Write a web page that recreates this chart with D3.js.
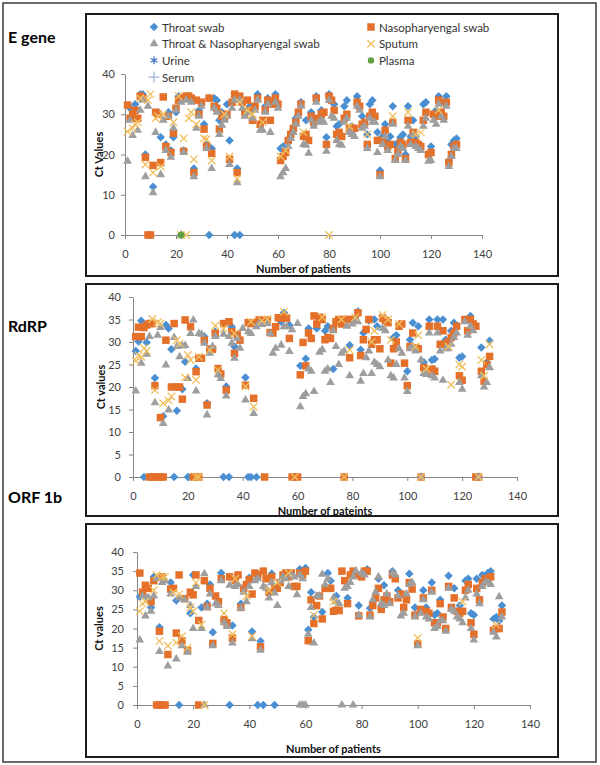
<!DOCTYPE html>
<html><head><meta charset="utf-8">
<script src="https://cdn.jsdelivr.net/npm/d3@7"></script>
<style>body{margin:0;background:#fff}</style>
</head><body><svg id="c" width="600" height="765"></svg>
<script>
// ---------- tick labels / categories ----------
const seriesNames = ["Throat swab","Nasopharyengal swab","Throat & Nasopharyengal  swab","Sputum","Urine","Plasma","Serum"];
const xTicks = [0,20,40,60,80,100,120,140];
const yTicksE = [0,10,20,30,40];
const yTicks5 = [0,5,10,15,20,25,30,35,40];

// ---------- E gene (values per patient 1..130; null = no sample) ----------
const eThroat = [null,31.5,29,32.5,null,35,35,20,null,null,
 12,null,30.5,24.3,null,22.5,30.5,21,24.3,30.5,
 34.5,34,21,34,null,null,16.5,null,31,null,
 27.5,22.5,34,21.5,34,33.5,28.5,30.5,null,32.5,
 23.5,33,34.5,16.5,null,null,null,null,32,null,
 null,35,null,null,32,34,null,33,35,null,
 21.5,22,null,23,null,26,29,30,33,null,
 28.5,null,30.5,29,34.5,null,31,null,24.3,35,
 null,32.5,27,27.5,null,32,33.5,null,27,null,
 34.5,null,29.5,null,25,32.5,33.5,null,25.5,16,
 24.5,27.5,23,24.5,32,22.5,22.8,24.3,25,20,
 32,24.5,28.5,24.5,null,null,32.5,33,null,22,
 null,31,34.5,null,33,34.5,18.5,22.5,23.5,24];
const eThroatZero = [22,33,43,45];
const eNaso = [32.3,29,30,31,29,34.5,34,19.3,null,null,
 17.3,30.5,30,18,34.3,22,29.5,20.5,25.3,31.5,
 33.5,34,20.8,34.5,34.5,34,15.5,33.5,30,33,
 26.3,22,34,20.3,32,31.5,26.3,29.5,29,30,
 18.8,33,35,15.5,34.5,33,30.5,33.5,31,28.5,
 32,34,27.5,28.5,31,33.5,28.5,32.5,34,32.5,
 18.5,19.5,20.5,23.5,25,26.5,28,30.5,32.5,24.5,
 25,23.5,29.5,28,34,29,30,30.5,22.5,34.5,
 33.5,31,25,25.5,24.5,29,30,26.5,26.5,26.5,
 33,32,27.5,28,22.5,29.5,30.5,29.5,23.5,15,
 23.5,26,22,22.5,28,19,21,23,22.5,19,
 28.5,23,25.5,23,22.5,22,28.5,30.5,20,20.5,
 30,29.5,33.5,30.5,29.5,33,18,20,22,22.5];
const eNasoZero = [9,10];
const eTN = [18.3,28.5,24.7,null,26,31,33.5,14.5,32,null,
 10.5,25.5,null,15,28.5,21,29.5,19.3,26.5,31,
 null,33,20.5,33.5,null,33,14.5,26.5,29.5,32,
 null,21.5,null,16.5,31.5,30.5,25,27.3,28.5,29.5,
 17.5,31.5,33.5,13,33.5,31.5,29.5,30.5,null,29,
 31,33.5,26,26,30.5,32.5,25.5,null,33,31.5,
 14.5,15.5,16.5,22,24,25.5,27.5,29.5,32,22.5,
 22.3,20.3,28.5,27,33,28,28.5,28,20.8,33.5,
 29.5,29,23.5,22.5,22.3,28,29,25.5,25,24.5,
 32,31,26.5,27,21.5,29,28,28,20.5,14.5,
 22.5,24.5,21,null,27.5,18.5,20,22,21.5,18.5,
 27,22.5,25,22,21.5,21,27,29,18.3,18.5,
 28.5,27.5,32.5,29.5,28.5,32,17,19.5,21.5,21.5];
const eTNZero = [22];
const eSputum = [25.7,null,26.5,27.5,28,34,null,17.5,33.5,35,
 15.5,29,29.5,17,30,null,null,null,28,null,
 34.5,null,24,null,29,30.5,18.8,27.5,null,null,
 24,23.8,null,18.5,null,null,null,null,30,null,
 19.5,null,null,14,33,null,null,31,null,30,
 null,null,null,28,null,null,null,null,null,null,
 19.5,null,21,null,null,null,null,null,null,25.5,
 null,null,null,null,null,null,null,null,null,null,
 null,null,null,null,null,null,null,27,null,null,
 null,null,null,null,25,null,null,null,null,null,
 null,null,null,null,29.5,null,null,null,null,null,
 30.5,null,null,25,null,25.5,null,null,null,null,
 null,null,31,null,null,null,null,null,null,null];
const eSputumZero = [22,24,80];
const ePlasmaZero = [22];

// ---------- RdRP ----------
const rThroat = [28,30.1,34.7,null,29.9,null,null,22,null,null,
 13.5,33.8,33,28.4,null,14.7,null,19.5,25.6,null,
 null,null,24.1,null,null,31.2,16.4,null,null,32.3,
 null,null,null,20.1,null,33.4,29,null,null,null,
 22.1,null,null,null,null,null,null,null,null,null,
 null,null,35.3,34.5,36.5,null,33.8,null,null,null,
 24.7,null,26.3,33,null,null,33,null,null,32.5,
 33.5,null,24,null,null,null,null,null,29.3,null,
 null,36.8,28.3,32,null,34.8,null,35,33.5,null,
 null,null,null,null,31,31.5,null,null,null,23.5,
 30.5,34.3,null,33.5,null,25.5,null,35,26,26.2,
 35,null,35,30.5,null,32.5,34.3,null,26.5,26.8,
 null,null,35.8,null,null,null,28.8,null,25.5,30.3];
const rThroatZero = [4,15,20,33,35,42,43,45];
const rNaso = [31.2,33.3,31.2,33.2,33.8,34.1,34.1,20.3,null,13.2,
 null,30.4,null,20,34.1,20,20,17.3,34.9,null,
 33.4,null,23.4,26.4,26.4,30.4,16,28.4,28.4,31.9,
 24.1,22.9,34.1,19.3,34.5,32.3,27.5,31.6,30.4,null,
 20.4,34.3,34.1,17.5,34.3,34.9,34.7,34.7,34.9,32.1,
 32,33.4,35.4,35.3,35.6,35.3,30.8,null,null,null,
 22.7,29.9,24.7,32,30.8,35.8,34,35.5,35,30.5,
 31,30.8,33,34.5,35,34,35,35,26.5,35,
 35,36.5,27,30.5,32.8,35,29.5,30.5,30.5,28.5,
 35.3,34.8,34.3,25.3,28.5,30,33.5,34,25.3,20.3,
 29,32,28.7,28.5,null,24.3,23.5,33.5,24,23.5,
 33.5,29.5,32.5,29.5,30,31,32,33.5,22.5,21.5,
 35,32.5,35,34,33.5,null,23.5,21.3,25,26.8];
const rNasoZero = [6,7,8,9,10,11,22,23,24,48,58,59,60,77,105,125,126];
const rTN = [19.1,null,25.3,null,27.3,31.2,null,16.5,31.5,33.2,
 11.9,24.9,14.9,null,31,29,26.7,29.1,29.2,21.9,
 31.9,34.9,19.1,31.9,31.7,29.7,13.8,27.5,29,31.2,
 22.7,21.9,31.7,18,31.2,29.7,26.4,30.8,28.6,33,
 17.1,32.3,31.9,14.1,33.4,34.1,33.9,null,34.1,31.9,
 27.5,28.6,null,29.3,33.4,33.4,27.9,32.7,null,34.1,
 15.6,17.9,18.5,24,23.5,19,null,27.7,28.3,23.5,
 24,21,32.5,29,25,27.5,28,33.5,22.5,34,
 35,34.5,21.3,23,26.5,28,23,25.5,25,24.5,
 33,32.5,26,22.5,22,25,28.5,27.5,22,19,
 28.5,29,28,null,26,23,22.8,32,22.5,22,
 32,28,21.5,28.5,28.5,29.5,31,32,21,19.5,
 34.5,31.5,33.5,32.5,null,null,22.5,20,21,24.3];
const rTNZero = [105,126];
const rSputum = [25.8,27,26.7,28.6,28,null,35.1,19.3,34.4,34.1,
 16.4,null,17,17.9,null,30.4,29.7,null,22.1,27.1,
 26,null,21.6,26.7,null,null,null,28.2,null,33.6,
 23.8,null,33,null,null,null,31.9,null,null,null,
 20.1,null,34.5,15.6,null,null,34.7,null,35.1,null,
 null,null,null,null,36.7,null,null,null,null,null,
 null,null,null,null,null,null,null,null,35.5,null,
 null,null,null,null,null,35,null,null,28.2,null,
 35.5,null,null,null,null,null,30,32.5,null,null,
 36,null,35,30.5,null,null,34,null,null,null,
 null,null,29,31.5,null,null,24,null,null,null,
 null,null,null,null,29,20.5,null,null,25,24.5,
 null,null,null,null,null,null,26,22.5,null,29.5];
const rSputumZero = [23,24,59,77,105,126];

// ---------- ORF 1b ----------
const oThroat = [28.3,29,null,28,25.5,33.5,null,20.3,null,null,
 null,32,null,27.3,null,null,null,null,24,34,
 null,null,25.5,null,26.5,31.5,19,null,null,34.5,
 null,null,null,20.8,null,null,26.5,null,null,33.3,
 19.2,null,null,16.7,null,null,null,34.3,null,null,
 null,null,null,null,null,null,null,35.5,null,35.8,
 19.7,29.5,23,null,null,24.3,null,34.5,32.5,null,
 28.5,null,null,null,28,null,null,null,26,null,
 null,35.5,25.3,null,null,33,null,31.3,null,null,
 35,null,30,null,null,null,34.3,null,25.5,null,
 null,30,25.5,null,32,23.5,24,27.5,null,null,
 33.8,null,30.5,null,26,null,32.5,33,24,23.5,
 33,null,34,null,34.5,35,22.5,23,22,26];
const oThroatZero = [15,33,43,45,49];
const oNaso = [34.5,29.5,31.3,30.5,27,32.5,null,19.3,33.5,null,
 13.2,30.3,30.5,18.8,34,16.8,27.8,14.3,29.5,28.8,
 34,22.1,null,32.5,25.7,30.5,16.1,28.5,27,33,
 22.3,21.5,33.5,17.5,32.5,34,25.5,30.5,31.5,32.8,
 29,34.5,34,15.2,35,33,29.5,33.5,30.5,30.5,
 32,34,34.5,33.5,34.5,31,31,34.5,34,35,
 16.8,27.5,21.3,26,28.5,22.5,30.5,30.5,30.5,24.5,
 24.8,24.7,35,32.5,26.5,34,35,34,23.3,33.5,
 35,35,23.5,26,28,30.5,25,27.5,28.5,27,
 34,33,28,29,25.5,27.5,32,30.3,23.5,16,
 25,28,24.5,24,30,21.5,21.5,26.5,23,20,
 31,25.5,28,24.5,24,24.5,30,31.5,21.5,18.5,
 30.5,27.5,32,33,32.5,33.5,19.5,20,20,24.3];
const oNasoZero = [7,8,9,10,22];
const oTN = [17,28.5,23.3,28,24.5,28.5,33,14,32,32.5,
 10.2,29,null,12,28,15.5,27.5,13.8,26,20,
 31,null,20,34.3,25.5,29,15.5,26.5,26,32.5,
 21.5,20.5,31.3,16.2,31,31.5,25.3,29.5,27,31,
 17.3,32.5,33,14.3,31,30.5,28,32,29.3,26,
 32.5,33.5,33,31,34,33.5,28.8,34,33,null,
 18.5,25.5,16.2,28.5,28.5,34.2,31.5,33,null,28,
 27,26.5,null,30.5,31,32,33.5,35,23.5,34.5,
 34,null,23,27.5,29.5,33.5,26.5,26,29,26.5,
 34.5,34,28.5,23.3,24,29,31.5,32,23,15.5,
 24,27.5,23,22.5,29.5,20,20.5,22,22,19.3,
 30.5,25,24.5,23,22.5,21.5,28,30,20,17,
 29,26.5,31,32,32,31.5,19,17.8,28.3,23];
const oTNZero = [24,58,59,60,73,77];
const oSputum = [24.5,26.5,27,null,null,30,34,16.7,33.5,33.5,
 15.5,null,29.5,16.3,29,18,null,15,25.5,24.5,
 32,null,21,null,null,null,null,null,null,null,
 24,null,null,18.5,33,null,null,null,28.5,null,
 18,null,null,null,null,null,30,null,null,32,
 null,null,null,34.5,null,null,null,null,null,null,
 null,null,23.5,null,null,null,null,null,null,27,
 null,null,null,null,null,null,null,null,null,null,
 null,null,null,null,null,null,null,null,null,null,
 null,null,null,null,null,null,null,null,null,17.5,
 null,null,null,null,null,null,null,null,null,null,
 null,null,null,null,null,27,null,null,null,null,
 null,null,null,null,null,null,null,21,null,null];
const oSputumZero = [24];

// ---------- rendering ----------
const FONT = "Lato, 'Open Sans', sans-serif";
const svg = d3.select("#c");
const markers = [
  {sym: d3.symbolDiamond2, size: 46, color: "#4A8FD2", fill: true},
  {sym: d3.symbolSquare,   size: 56, color: "#E4702A", fill: true},
  {sym: d3.symbolTriangle, size: 33, color: "#9E9E9E", fill: true},
  {sym: d3.symbolTimes,    size: 38, color: "#F0C060", fill: false},
  {sym: d3.symbolAsterisk, size: 40, color: "#4472C4", fill: false},
  {sym: d3.symbolCircle,   size: 32, color: "#5FA040", fill: true},
  {sym: d3.symbolPlus,     size: 40, color: "#9DB5D8", fill: false}
];
function drawMarker(g, i, cx, cy){
  const m = markers[i];
  const p = g.append("path").attr("d", d3.symbol(m.sym, m.size)())
    .attr("transform", `translate(${cx},${cy})`);
  if (m.fill) p.attr("fill", m.color).attr("stroke","none");
  else p.attr("fill","none").attr("stroke", m.color).attr("stroke-width",1.3);
}

svg.append("rect").attr("x",3).attr("y",3).attr("width",593).attr("height",759)
  .attr("fill","none").attr("stroke","#3a3a3a").attr("stroke-width",1.5);

const panels = [
  {label:"E gene", labelY:43, box:[86,14,558,276], xr:[125,482], yr:[235,74], yTicks:yTicksE,
   yTitle:"Ct Values", yTitleX:98, xTitle:"Number of patients", xTitleY:268, yPad:6, legend:true,
   series:[[0,eThroat,eThroatZero],[1,eNaso,eNasoZero],[2,eTN,eTNZero],[3,eSputum,eSputumZero],[5,[],ePlasmaZero]]},
  {label:"RdRP", labelY:332, box:[86,284,558,516], xr:[133,517], yr:[477,297], yTicks:yTicks5,
   yTitle:"Ct values", yTitleX:100, xTitle:"Number of pateints", xTitleY:510, yPad:8, legend:false,
   series:[[0,rThroat,rThroatZero],[1,rNaso,rNasoZero],[2,rTN,rTNZero],[3,rSputum,rSputumZero]]},
  {label:"ORF 1b", labelY:503, box:[86,524,558,757], xr:[137,530], yr:[705,552], yTicks:yTicks5,
   yTitle:"Ct values", yTitleX:98, xTitle:"Number of patients", xTitleY:748, yPad:9, legend:false,
   series:[[0,oThroat,oThroatZero],[1,oNaso,oNasoZero],[2,oTN,oTNZero],[3,oSputum,oSputumZero]]}
];

panels.forEach(p => {
  const g = svg.append("g");
  g.append("rect").attr("x",p.box[0]).attr("y",p.box[1])
    .attr("width",p.box[2]-p.box[0]).attr("height",p.box[3]-p.box[1])
    .attr("fill","none").attr("stroke","#1c1c1c").attr("stroke-width",2);
  svg.append("text").attr("x",8).attr("y",p.labelY).text(p.label)
    .attr("font-family",FONT).attr("font-weight","bold").attr("font-size",16).attr("fill","#000");

  const x = d3.scaleLinear().domain([0,140]).range(p.xr);
  const y = d3.scaleLinear().domain([0,40]).range(p.yr);

  const xa = g.append("g").attr("transform",`translate(0,${p.yr[0]})`)
    .call(d3.axisBottom(x).tickValues(xTicks).tickSize(4).tickSizeOuter(0).tickPadding(11));
  const ya = g.append("g").attr("transform",`translate(${p.xr[0]},0)`)
    .call(d3.axisLeft(y).tickValues(p.yTicks).tickSize(4).tickSizeOuter(0).tickPadding(p.yPad));
  [xa,ya].forEach(a => {
    a.select(".domain").attr("stroke","#868686");
    a.selectAll(".tick line").attr("stroke","#868686");
    a.selectAll(".tick text").attr("fill","#404040").attr("font-family",FONT).attr("font-size",11);
  });

  g.append("text").attr("x",(p.xr[0]+p.xr[1])/2).attr("y",p.xTitleY).text(p.xTitle)
    .attr("text-anchor","middle").attr("dominant-baseline","central")
    .attr("font-family",FONT).attr("font-weight","bold").attr("font-size",11).attr("fill","#111");
  g.append("text").attr("transform",`translate(${p.yTitleX},${(p.yr[0]+p.yr[1])/2}) rotate(-90)`)
    .text(p.yTitle).attr("text-anchor","middle").attr("dominant-baseline","central")
    .attr("font-family",FONT).attr("font-weight","bold").attr("font-size",11).attr("fill","#111");

  const pts = g.append("g");
  p.series.forEach(([si, vals, zeros]) => {
    vals.forEach((v, k) => { if (v !== null) drawMarker(pts, si, x(k+1), y(v)); });
    zeros.forEach(pt => drawMarker(pts, si, x(pt), y(0)));
  });

  if (p.legend) {
    const lg = g.append("g");
    seriesNames.forEach((nm, i) => {
      const cx = i % 2 === 0 ? 154 : 371;
      const cy = 27 + Math.floor(i/2) * 16.7;
      drawMarker(lg, i, cx, cy);
      lg.append("text").attr("x",cx+8).attr("y",cy).text(nm)
        .attr("dominant-baseline","central").attr("font-family",FONT)
        .attr("font-size",11.5).attr("fill","#333");
    });
  }
});
</script></body></html>
